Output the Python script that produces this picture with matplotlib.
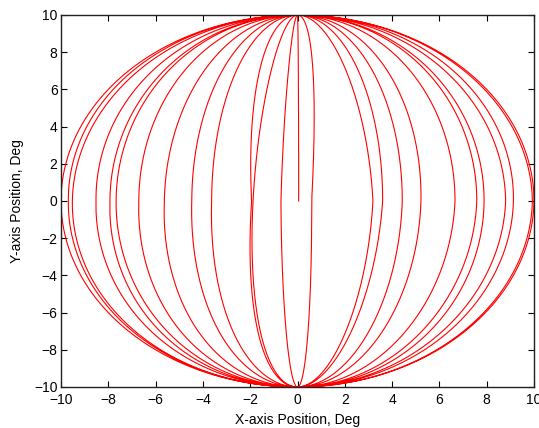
import numpy as np
import matplotlib
matplotlib.use("Agg")
import matplotlib.pyplot as plt

# Half-widths (deg) of each scan loop where it crosses y = 0
right_widths = [0.6, 3.19, 3.6, 4.43, 5.22, 6.66, 7.58, 7.89, 8.8, 9.13, 9.93, 10.0]
left_widths = [0.7, 1.88, 1.94, 3.63, 4.47, 5.63, 6.71, 7.67, 7.93, 8.52, 9.52, 9.69, 10.0]
start_width = 0.05          # initial near-vertical stroke from the centre
y_amplitude = 10.0
x_ticks = [-10, -8, -6, -4, -2, 0, 2, 4, 6, 8, 10]
y_ticks = [-10, -8, -6, -4, -2, 0, 2, 4, 6, 8, 10]

# traversal order: alternate left / right half loops
seq = []
for i in range(len(left_widths)):
    seq.append(-left_widths[i])
    if i < len(right_widths):
        seq.append(right_widths[i])

xs, ys = [], []
# first stroke: from (0,0) up to top
phi = np.linspace(np.pi / 2, 0, 60)
xs.append(start_width * np.sin(phi)); ys.append(y_amplitude * np.cos(phi))
top = True
mags = [start_width] + [abs(v) for v in seq] + [abs(seq[-1])]
for k, v in enumerate(seq):
    a_prev, a_cur, a_next = mags[k], mags[k + 1], mags[k + 2]
    m0 = 0.5 * (a_prev + a_cur)
    m1 = 0.5 * (a_cur + a_next)
    phi = np.linspace(0, np.pi, 400)
    amp = np.where(phi < np.pi / 2,
                   m0 + (a_cur - m0) * (phi / (np.pi / 2)),
                   a_cur + (m1 - a_cur) * ((phi - np.pi / 2) / (np.pi / 2)))
    sgn = np.sign(v)
    x = sgn * amp * np.sin(phi)
    y = y_amplitude * np.cos(phi) if top else -y_amplitude * np.cos(phi)
    xs.append(x); ys.append(y)
    top = not top

X = np.concatenate(xs); Y = np.concatenate(ys)

plt.rcParams['font.family'] = ['Liberation Sans', 'DejaVu Sans']
fig = plt.figure(figsize=(5.39, 4.28), dpi=100)
ax = fig.add_axes([61 / 539, 1 - 387 / 428, (534 - 61) / 539, (387 - 15) / 428])
ax.plot(X, Y, color=(1, 0, 0), lw=0.8)
ax.set_xlim(-10, 10); ax.set_ylim(-10, 10)
ax.set_xticks(x_ticks); ax.set_yticks(y_ticks)
ax.tick_params(direction='in', top=True, right=True, length=4, width=0.8,
               labelsize=10, colors='black')
ax.tick_params(axis='x', pad=4)
ax.tick_params(axis='y', pad=2.5)
for s in ax.spines.values():
    s.set_linewidth(1.0); s.set_color('#222222')
ax.set_xlabel('X-axis Position, Deg', fontsize=10, labelpad=4.5)
ax.set_ylabel('Y-axis Position, Deg', fontsize=10, labelpad=7)
fig.savefig('out.png', dpi=100)
